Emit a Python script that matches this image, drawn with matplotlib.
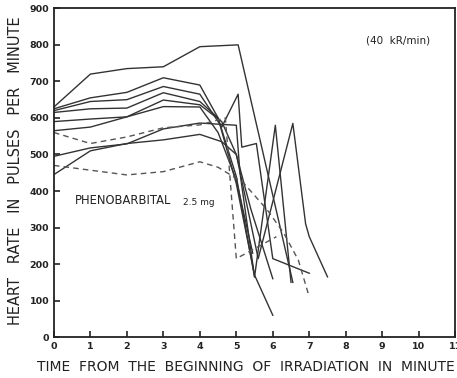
import matplotlib
matplotlib.use("Agg")
import matplotlib.pyplot as plt

# heart rate traces (minutes, pulses/min)
solid_x = [
    [0, 1, 2, 3, 4, 5.05, 6.55],
    [0, 1, 2, 3, 4, 4.5, 5.0, 5.5, 6.0],
    [0, 1, 2, 3, 4, 4.6, 5.05, 5.15, 5.55, 6.0, 7.0],
    [0, 1, 2, 3, 4, 4.5, 5.0, 5.5, 6.07, 6.5],
    [0, 1, 2, 3, 4, 4.6, 5.0, 5.6, 6.55, 6.9, 7.0, 7.5],
    [0, 1, 2, 3, 4, 4.5, 5.0, 5.45],
    [0, 1, 2, 3, 4, 5.0, 5.1, 5.5],
    [0, 1, 2, 3, 4, 4.6, 5.0, 5.4, 6.0],
]
solid_y = [
    [630, 720, 735, 740, 795, 800, 150],
    [625, 655, 670, 710, 690, 600, 420, 170, 60],
    [620, 645, 650, 686, 665, 575, 665, 520, 530, 215, 175],
    [615, 625, 627, 669, 645, 600, 440, 165, 580, 150],
    [590, 597, 603, 649, 636, 590, 500, 215, 585, 310, 275, 165],
    [565, 575, 603, 631, 630, 560, 430, 230],
    [495, 518, 529, 570, 586, 580, 450, 165],
    [445, 510, 530, 540, 555, 535, 500, 350, 160],
]
dashed_x = [
    [0, 1, 2, 3, 4, 4.7, 5.0, 6.1],
    [0, 1, 2, 3, 4, 4.5, 5.2, 5.85, 6.3, 6.7, 7.0],
]
dashed_y = [
    [560, 530, 548, 573, 581, 600, 215, 275],
    [470, 457, 444, 453, 480, 465, 422, 348, 285, 211, 110],
]

x_ticks = list(range(0, 12))
y_ticks = list(range(0, 1000, 100))

fig = plt.figure(figsize=(4.57, 3.78), dpi=100)
ax = fig.add_axes([0.118, 0.108, 0.878, 0.870])

ink = "#333333"
for xs, ys in zip(solid_x, solid_y):
    ax.plot(xs, ys, color=ink, lw=1.0)
for xs, ys in zip(dashed_x, dashed_y):
    ax.plot(xs, ys, color="#555555", lw=1.0, ls=(0, (4, 3)))

ax.set_xlim(0, 11)
ax.set_ylim(0, 900)
ax.set_xticks(x_ticks)
ax.set_yticks(y_ticks)
ax.tick_params(direction="in", length=4, width=1.2, labelsize=6.8,
               colors="#222222")
for lab in ax.get_xticklabels() + ax.get_yticklabels():
    lab.set_fontweight("bold")
for s in ax.spines.values():
    s.set_linewidth(1.3)
    s.set_color("#222222")

ax.text(8.55, 805, "(40  kR/min)", fontsize=7.5, color="#222222")
ax.text(0.58, 365, "PHENOBARBITAL", fontsize=8.3, color="#222222")
ax.text(3.55, 362, "2.5 mg", fontsize=6.5, color="#222222")

fig.text(0.033, 0.14, "HEART   RATE   IN   PULSES   PER   MINUTE",
         rotation=90, fontsize=10.5, color="#222222",
         ha="center", va="bottom")
fig.text(0.08, 0.018, "TIME  FROM  THE  BEGINNING  OF  IRRADIATION  IN  MINUTE",
         fontsize=10, color="#222222", ha="left")

fig.savefig("out.png", dpi=100)
